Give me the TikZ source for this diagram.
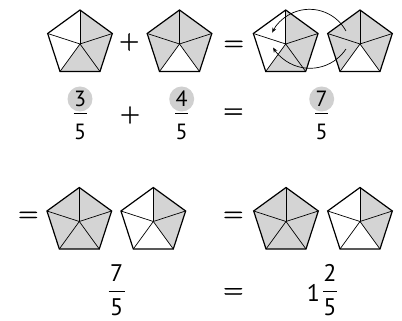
\documentclass[tikz,border=0pt]{standalone}
\usepackage{fontspec}
\setmainfont{PT Sans}
\newfontfamily\opfont[FakeBold=1.5]{lmroman10-regular.otf}
\usetikzlibrary{arrows.meta}
\definecolor{shadegray}{RGB}{212,212,212}
\definecolor{circgray}{RGB}{208,208,208}
\tikzset{
  pentfill/.style={fill=shadegray},
  pentedge/.style={line width=1.2pt, line join=miter},
  spoke/.style={line width=0.7pt},
  numA/.style={inner sep=0pt, font=\fontsize{22}{24}\selectfont},
  numB/.style={inner sep=0pt, font=\fontsize{24}{26}\selectfont},
  opsign/.style={inner sep=0pt, font=\opfont\fontsize{26}{28}\selectfont},
  fracbar/.style={line width=0.9pt},
  hl/.style={circle, fill=circgray, minimum size=25pt, inner sep=0pt},
  movearrow/.style={line width=0.7pt, -{Stealth[length=5pt,width=4pt]}}
}
\newcommand\pgon[3]{%
  \begin{scope}[shift={(#1,#2)}]
    \foreach \k in {#3} {
      \fill[pentfill] (0,0) -- ({90+72*\k}:34) -- ({162+72*\k}:34) -- cycle;
    }
    \foreach \k in {0,...,4} { \draw[spoke] (0,0) -- ({90+72*\k}:34); }
    \draw[pentedge] (90:34) -- (162:34) -- (234:34) -- (306:34) -- (18:34) -- cycle;
  \end{scope}}
\begin{document}
\begin{tikzpicture}[x=1pt,y=1pt]
\useasboundingbox (0,0) rectangle (402,321);
% row 1 pentagons
\pgon{80}{277}{2,3,4}
\node[opsign] (p1) at (129.2,279) {+};
\pgon{179.5}{277}{0,1,3,4}
\node[opsign] (e1) at (233.7,275.3) {=};
\pgon{285.7}{277}{2,3,4}
\pgon{360}{277}{0,1,3,4}
% moving arrows
\draw[movearrow] (309.5,270.2) ++(28.5:41.5) arc[start angle=28.5, end angle=154, radius=41.5];
\draw[movearrow] (310,295.9) ++(-33.6:43.2) arc[start angle=-33.6, end angle=-148.7, radius=43.2];
% row 1 fractions
\node[hl] (c1) at (80,222) {};
\node[numA] (n1) at (80,222) {3};
\draw[fracbar] (73.5,207.7) -- (86.5,207.7);
\node[numA] (d1) at (80,189) {5};
\node[opsign] (p2) at (130,206) {+};
\node[hl] (c2) at (181.7,222) {};
\node[numA] (n2) at (181.7,222) {4};
\draw[fracbar] (175.2,207.7) -- (188.2,207.7);
\node[numA] (d2) at (181.7,189) {5};
\node[opsign] (e2) at (233.3,207.7) {=};
\node[hl] (c3) at (321.7,222) {};
\node[numA] (n3) at (321.7,222) {7};
\draw[fracbar] (315.2,207.7) -- (328.2,207.7);
\node[numA] (d3) at (321.7,189) {5};
% row 2 pentagons
\node[opsign] (e3) at (28.3,104.3) {=};
\pgon{79.3}{99.5}{0,1,2,3,4}
\pgon{153.3}{99.5}{3,4}
\node[opsign] (e4) at (233.3,104.3) {=};
\pgon{286}{99.5}{0,1,2,3,4}
\pgon{360}{99.5}{3,4}
% row 2 fractions
\node[numB] (n4) at (116.7,48) {7};
\draw[fracbar] (108.5,29.8) -- (125,29.8);
\node[numB] (d4) at (116.7,13.5) {5};
\node[opsign] (e5) at (233.3,28) {=};
\node[numB] (w5) at (313.3,28.5) {1};
\node[numB] (n5) at (330,48) {2};
\draw[fracbar] (323.3,29.8) -- (336.7,29.8);
\node[numB] (d5) at (330,13.5) {5};
\end{tikzpicture}
\end{document}
